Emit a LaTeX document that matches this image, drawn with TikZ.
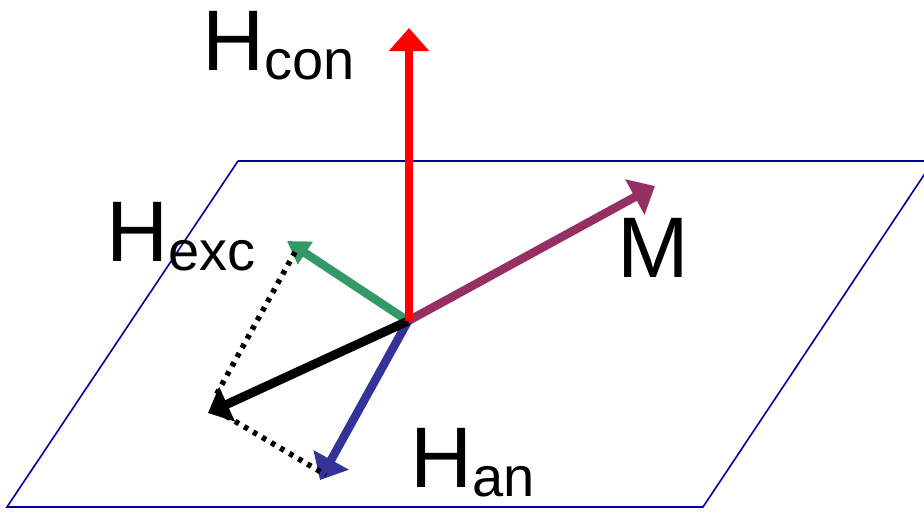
\documentclass[tikz,border=0pt]{standalone}
\usepackage{fontspec}
\setmainfont{Liberation Sans}
\usetikzlibrary{arrows.meta}
\definecolor{planeblue}{RGB}{0,0,153}
\definecolor{redv}{RGB}{255,0,0}
\definecolor{plumv}{RGB}{150,48,100}
\definecolor{greenv}{RGB}{51,153,102}
\definecolor{bluev}{RGB}{51,51,153}
\newcommand{\subtxt}[1]{\raisebox{-9pt}{\fontsize{56}{56}\selectfont #1}}
\tikzset{
 x=1pt,y=-1pt,
 vec/.style={line width=8.5pt,-{Triangle[length=23pt,width=39pt]}},
 vecsmall/.style={line width=8.5pt,-{Triangle[length=22pt,width=26pt]}},
 vecblack/.style={line width=9pt,-{Triangle[length=21pt,width=37pt]}},
 guide/.style={line width=5.5pt,dash pattern=on 4.5pt off 6pt},
 lab/.style={inner sep=0pt,anchor=base west,font=\fontsize{86}{86}\selectfont}
}
\begin{document}
\begin{tikzpicture}
\useasboundingbox (0,0) rectangle (924,512);
\coordinate (O) at (408,321);
\coordinate (Ored) at (409,321);
\coordinate (Tcon) at (409,28);
\coordinate (TM) at (655,186);
\coordinate (Texc) at (287,241);
\coordinate (Tan) at (320,480);
\coordinate (Tres) at (208,413);
\coordinate (G1a) at (295,252);
\coordinate (G1b) at (215,397);
\coordinate (G2a) at (226,416);
\coordinate (G2b) at (326,475);
\coordinate (P1) at (238,161);
\coordinate (P2) at (926,161);
\coordinate (P3) at (926,172);
\coordinate (P4) at (703,507);
\coordinate (P5) at (7,507);
\draw[planeblue,line width=1.6pt] (P1) -- (P2) (P3) -- (P4) -- (P5) -- (P1);
\draw[vec,plumv] (O) -- (TM);
\draw[vecsmall,greenv] (O) -- (Texc);
\draw[vec,bluev] (O) -- (Tan);
\draw[guide] (G1a) -- (G1b);
\draw[guide] (G2a) -- (G2b);
\draw[vecblack,black] (O) -- (Tres);
\draw[vec,redv] (Ored) -- (Tcon);
\node[lab] (hcon) at (202,70) {H\subtxt{con}};
\node[lab] (hexc) at (106,261) {H\subtxt{exc}};
\node[lab] (m) at (617,277) {M};
\node[lab] (han) at (410,487) {H\subtxt{an}};
\end{tikzpicture}
\end{document}
